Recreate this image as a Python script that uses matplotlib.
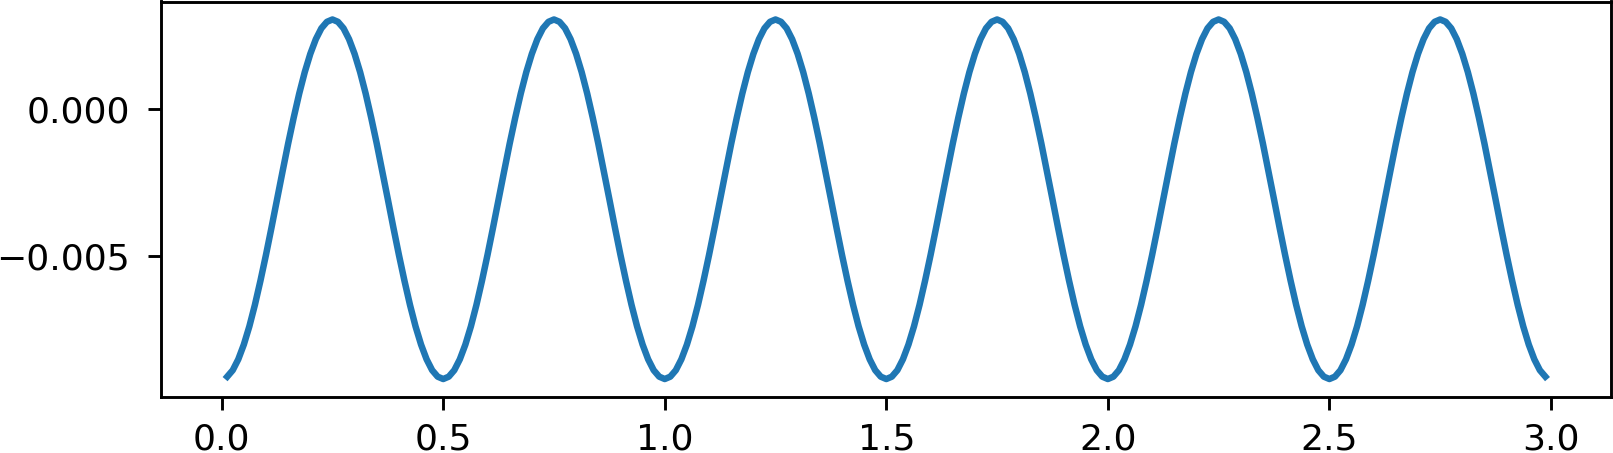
import numpy as np
import matplotlib
matplotlib.use("Agg")
import matplotlib.pyplot as plt

# sample positions, 0.0125 apart, from 0.0125 to 2.9875
x_start = 0.0125
x_step = 0.0125

# values, one row per period (trough -> peak -> trough)
y_rows = [
    [-0.00909, -0.00887, -0.00850, -0.00800, -0.00738, -0.00665, -0.00583, -0.00495, -0.00402, -0.00306,
     -0.00211, -0.00117, -0.00029, 0.00053, 0.00126, 0.00188, 0.00238, 0.00275, 0.00297, 0.00305,
     0.00297, 0.00275, 0.00238, 0.00188, 0.00126, 0.00053, -0.00029, -0.00117, -0.00211, -0.00306,
     -0.00402, -0.00495, -0.00583, -0.00665, -0.00738, -0.00800, -0.00850, -0.00887, -0.00909, -0.00917],
    [-0.00909, -0.00887, -0.00850, -0.00800, -0.00738, -0.00665, -0.00583, -0.00495, -0.00402, -0.00306,
     -0.00211, -0.00117, -0.00029, 0.00053, 0.00126, 0.00188, 0.00238, 0.00275, 0.00297, 0.00305,
     0.00297, 0.00275, 0.00238, 0.00188, 0.00126, 0.00053, -0.00029, -0.00117, -0.00211, -0.00306,
     -0.00402, -0.00495, -0.00583, -0.00665, -0.00738, -0.00800, -0.00850, -0.00887, -0.00909, -0.00917],
    [-0.00909, -0.00887, -0.00850, -0.00800, -0.00738, -0.00665, -0.00583, -0.00495, -0.00402, -0.00306,
     -0.00211, -0.00117, -0.00029, 0.00053, 0.00126, 0.00188, 0.00238, 0.00275, 0.00297, 0.00305,
     0.00297, 0.00275, 0.00238, 0.00188, 0.00126, 0.00053, -0.00029, -0.00117, -0.00211, -0.00306,
     -0.00402, -0.00495, -0.00583, -0.00665, -0.00738, -0.00800, -0.00850, -0.00887, -0.00909, -0.00917],
    [-0.00909, -0.00887, -0.00850, -0.00800, -0.00738, -0.00665, -0.00583, -0.00495, -0.00402, -0.00306,
     -0.00211, -0.00117, -0.00029, 0.00053, 0.00126, 0.00188, 0.00238, 0.00275, 0.00297, 0.00305,
     0.00297, 0.00275, 0.00238, 0.00188, 0.00126, 0.00053, -0.00029, -0.00117, -0.00211, -0.00306,
     -0.00402, -0.00495, -0.00583, -0.00665, -0.00738, -0.00800, -0.00850, -0.00887, -0.00909, -0.00917],
    [-0.00909, -0.00887, -0.00850, -0.00800, -0.00738, -0.00665, -0.00583, -0.00495, -0.00402, -0.00306,
     -0.00211, -0.00117, -0.00029, 0.00053, 0.00126, 0.00188, 0.00238, 0.00275, 0.00297, 0.00305,
     0.00297, 0.00275, 0.00238, 0.00188, 0.00126, 0.00053, -0.00029, -0.00117, -0.00211, -0.00306,
     -0.00402, -0.00495, -0.00583, -0.00665, -0.00738, -0.00800, -0.00850, -0.00887, -0.00909, -0.00917],
    [-0.00909, -0.00887, -0.00850, -0.00800, -0.00738, -0.00665, -0.00583, -0.00495, -0.00402, -0.00306,
     -0.00211, -0.00117, -0.00029, 0.00053, 0.00126, 0.00188, 0.00238, 0.00275, 0.00297, 0.00305,
     0.00297, 0.00275, 0.00238, 0.00188, 0.00126, 0.00053, -0.00029, -0.00117, -0.00211, -0.00306,
     -0.00402, -0.00495, -0.00583, -0.00665, -0.00738, -0.00800, -0.00850, -0.00887, -0.00909],
]

y = np.concatenate([np.array(r) for r in y_rows])
x = x_start + x_step * np.arange(len(y))

dpi = 260
fig = plt.figure(figsize=(1613 / dpi, 453 / dpi), dpi=dpi)
ax = fig.add_axes([161.3 / 1613, 56.0 / 453, 1450.0 / 1613, 395.5 / 453])

ax.plot(x, y, lw=1.8)
ax.set_yticks([0.000, -0.005])
ax.set_xticks([0.0, 0.5, 1.0, 1.5, 2.0, 2.5, 3.0])
ax.tick_params(axis='y', pad=5.2)

fig.savefig("out.png", dpi=dpi)
